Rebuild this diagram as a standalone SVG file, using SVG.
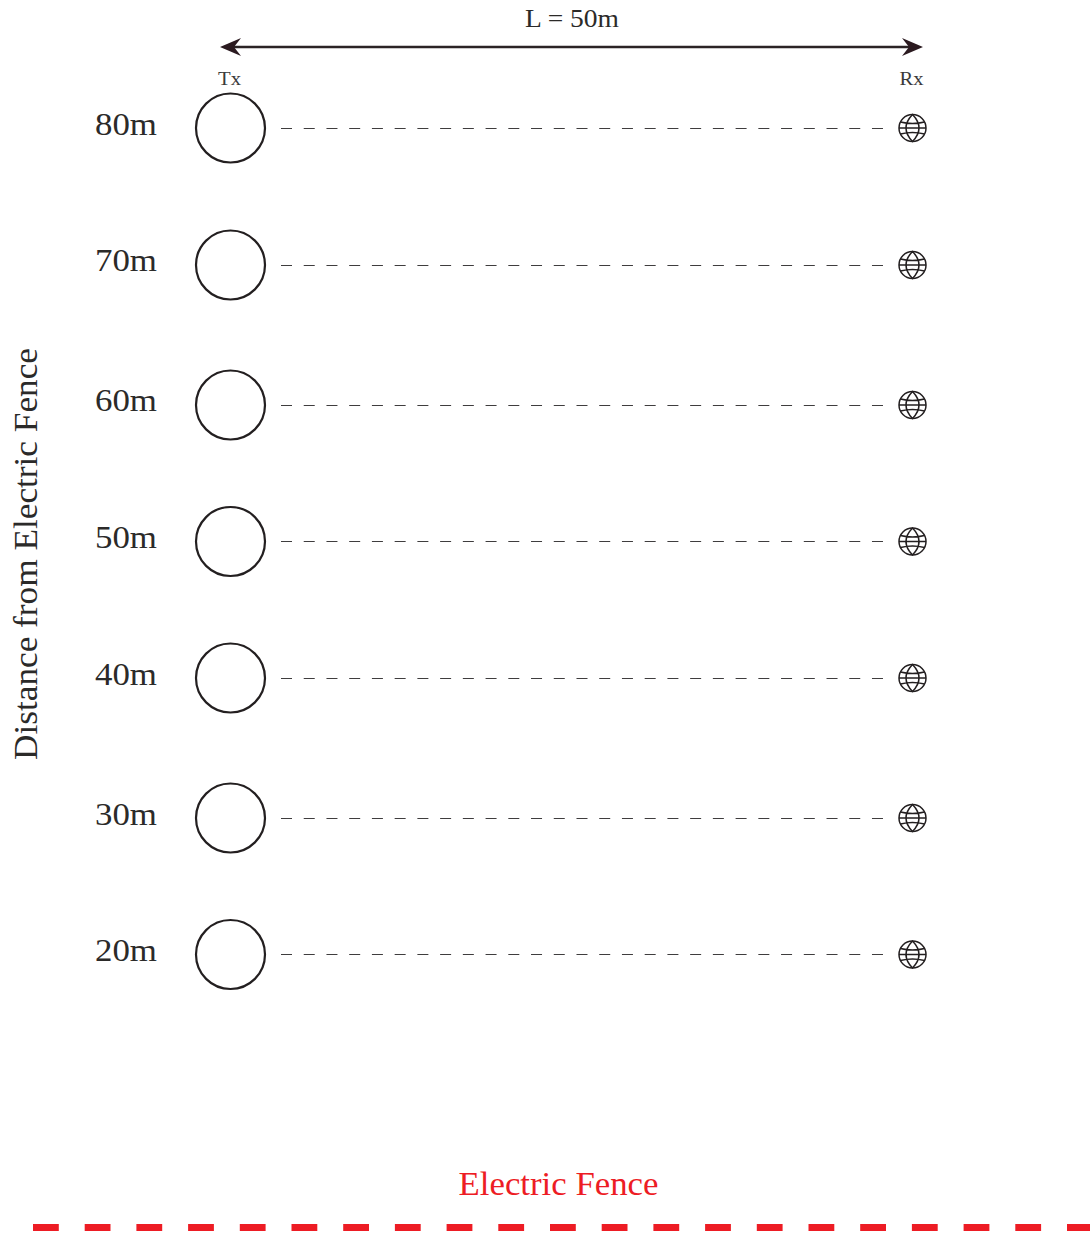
<svg xmlns="http://www.w3.org/2000/svg" width="1090" height="1236" viewBox="0 0 1090 1236">
<style>
text{font-family:"Liberation Serif","Times New Roman",serif;fill:#2b2a29;font-weight:400}
.d{font-size:32px;text-anchor:middle}
.t{font-size:19px;text-anchor:middle;fill:#3a3a3a}
.c{fill:#fff;stroke:#231f20;stroke-width:2.2}
.l{stroke:#3f3d3e;stroke-width:1.1;stroke-dasharray:11 11.73;fill:none}
.g{fill:none;stroke:#231f20;stroke-width:1.5}
</style>
<defs>
<g id="globe"><circle class="g" r="13.5"/><path class="g" d="M0-13.500Q-13 0 0 13.500Q13 0 0-13.500ZM-12-6Q0-3 12-6M-12 6Q0 3 12 6M-13.500 0H13.500"/></g>
</defs>
<rect width="1090" height="1236" fill="#fff"/>
<g id="connectors">
<path class="l" d="M281 128.500H885"/>
<path class="l" d="M281 265.500H885"/>
<path class="l" d="M281 405.500H885"/>
<path class="l" d="M281 541.500H885"/>
<path class="l" d="M281 678.500H885"/>
<path class="l" d="M281 818.500H885"/>
<path class="l" d="M281 954.500H885"/>
</g>
<g id="span">
<path d="M228 47H914" stroke="#2b2325" stroke-width="2.600" fill="none"/>
<path d="M220 47L241 38L234 47L241 56Z" fill="#2b1a20"/>
<path d="M923 47L902 38L909 47L902 56Z" fill="#2b1a20"/>
<text x="572" y="27" font-size="25" text-anchor="middle" textLength="94" lengthAdjust="spacingAndGlyphs">L = 50m</text>
</g>
<text class="t" x="229.500" y="85" textLength="23" lengthAdjust="spacingAndGlyphs">Tx</text>
<text class="t" x="911.500" y="85" textLength="24" lengthAdjust="spacingAndGlyphs">Rx</text>
<g id="row80"><text class="d" x="126" y="135" textLength="62" lengthAdjust="spacingAndGlyphs">80m</text><circle class="c" cx="230.500" cy="128" r="34.500"/><use href="#globe" x="912.500" y="128"/></g>
<g id="row70"><text class="d" x="126" y="271" textLength="62" lengthAdjust="spacingAndGlyphs">70m</text><circle class="c" cx="230.500" cy="265" r="34.500"/><use href="#globe" x="912.500" y="265"/></g>
<g id="row60"><text class="d" x="126" y="411" textLength="62" lengthAdjust="spacingAndGlyphs">60m</text><circle class="c" cx="230.500" cy="405" r="34.500"/><use href="#globe" x="912.500" y="405"/></g>
<g id="row50"><text class="d" x="126" y="548" textLength="62" lengthAdjust="spacingAndGlyphs">50m</text><circle class="c" cx="230.500" cy="541.500" r="34.500"/><use href="#globe" x="912.500" y="541.500"/></g>
<g id="row40"><text class="d" x="126" y="685" textLength="62" lengthAdjust="spacingAndGlyphs">40m</text><circle class="c" cx="230.500" cy="678" r="34.500"/><use href="#globe" x="912.500" y="678"/></g>
<g id="row30"><text class="d" x="126" y="825" textLength="62" lengthAdjust="spacingAndGlyphs">30m</text><circle class="c" cx="230.500" cy="818" r="34.500"/><use href="#globe" x="912.500" y="818"/></g>
<g id="row20"><text class="d" x="126" y="961" textLength="62" lengthAdjust="spacingAndGlyphs">20m</text><circle class="c" cx="230.500" cy="954.500" r="34.500"/><use href="#globe" x="912.500" y="954.500"/></g>
<text id="axis" x="0" y="0" font-size="33" text-anchor="middle" textLength="412" lengthAdjust="spacingAndGlyphs" transform="translate(37 554) rotate(-90)">Distance from Electric Fence</text>
<g id="fence">
<text x="558.500" y="1195" font-size="33" text-anchor="middle" textLength="200" lengthAdjust="spacingAndGlyphs" style="fill:#ed1c24">Electric Fence</text>
<path d="M33 1227.500H1090" stroke="#ed1c24" stroke-width="7" stroke-dasharray="25.800 25.900" fill="none"/>
</g>
</svg>
